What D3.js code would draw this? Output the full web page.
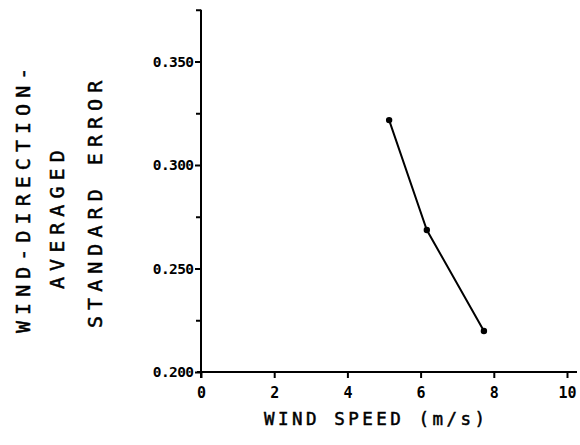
<!DOCTYPE html>
<html>
<head>
<meta charset="utf-8">
<script src="https://cdn.jsdelivr.net/npm/d3@7"></script>
<style>
  html, body { margin: 0; padding: 0; background: #fff; }
  svg { display: block; }
</style>
</head>
<body>
<svg id="chart" width="580" height="445"></svg>
<script>
// ---- data ----
const windSpeed = [5.14, 6.17, 7.73];
const stdError = [0.3217, 0.2686, 0.2198];
const xTicks = [0, 2, 4, 6, 8, 10];
const yMajorTicks = [0.200, 0.250, 0.300, 0.350];
const yMinorTicks = [0.225, 0.275, 0.325, 0.375];
const yTitleLines = ["WIND-DIRECTION-", "AVERAGED", "STANDARD ERROR"];
const xTitle = "WIND SPEED (m/s)";

const svg = d3.select("#chart");
const x = d3.scaleLinear().domain([0, 10]).range([201, 567]);
const y = d3.scaleLinear().domain([0.2, 0.375]).range([372, 9.75]);

const ink = "#000";
const mono = "'DejaVu Sans Mono', monospace";

// y axis
const yAxisG = svg.append("g").attr("transform", `translate(${x(0)},0)`);
yAxisG.call(d3.axisLeft(y).tickValues(yMajorTicks).tickSize(6).tickFormat(d3.format(".3f")));
yAxisG.select(".domain").remove();
yAxisG.selectAll("line").attr("stroke", ink).attr("stroke-width", 2);
yAxisG.selectAll("text")
  .attr("font-family", mono)
  .attr("font-weight", "bold")
  .attr("font-size", 14.5)
  .attr("letter-spacing", -0.6)
  .attr("fill", ink)
  .attr("x", -7.5);
const yMinorG = svg.append("g").attr("transform", `translate(${x(0)},0)`);
yMinorG.call(d3.axisLeft(y).tickValues(yMinorTicks).tickSize(5).tickFormat(""));
yMinorG.select(".domain").remove();
yMinorG.selectAll("line").attr("stroke", ink).attr("stroke-width", 2);

// y axis line
svg.append("line")
  .attr("x1", x(0)).attr("x2", x(0))
  .attr("y1", y(0.375)).attr("y2", y(0.2) + 6)
  .attr("stroke", ink).attr("stroke-width", 2);

// x axis
const xAxisG = svg.append("g").attr("transform", `translate(0,${y(0.2)})`);
xAxisG.call(d3.axisBottom(x).tickValues(xTicks).tickSize(6).tickFormat(d3.format("d")));
xAxisG.select(".domain").remove();
xAxisG.selectAll("line").attr("stroke", ink).attr("stroke-width", 2);
xAxisG.selectAll("text")
  .attr("font-family", mono)
  .attr("font-weight", "bold")
  .attr("font-size", 15)
  .attr("fill", ink)
  .attr("dy", null)
  .attr("y", 26);
svg.append("line")
  .attr("x1", x(0) - 4).attr("x2", 577)
  .attr("y1", y(0.2)).attr("y2", y(0.2))
  .attr("stroke", ink).attr("stroke-width", 2);

// data line
const pts = windSpeed.map((v, i) => [v, stdError[i]]);
svg.append("path")
  .datum(pts)
  .attr("fill", "none")
  .attr("stroke", ink)
  .attr("stroke-width", 2)
  .attr("d", d3.line().x(d => x(d[0])).y(d => y(d[1])));
svg.selectAll("circle.pt")
  .data(pts)
  .enter().append("circle")
  .attr("class", "pt")
  .attr("cx", d => x(d[0]))
  .attr("cy", d => y(d[1]))
  .attr("r", 3.2)
  .attr("fill", ink);

// y title (rotated, three lines): baseline x, start (bottom) y
const yTitleBaseX = [30, 63.5, 102];
const yTitleStartY = [333, 289, 328];
yTitleLines.forEach((t, i) => {
  svg.append("text")
    .attr("transform", `translate(${yTitleBaseX[i]},${yTitleStartY[i]}) rotate(-90)`)
    .attr("text-anchor", "start")
    .attr("font-family", mono)
    .attr("font-size", 20)
    .attr("letter-spacing", 6.05)
    .attr("fill", ink)
    .attr("stroke", ink)
    .attr("stroke-width", 0.5)
    .text(t);
});

// x title
svg.append("text")
  .attr("x", 264)
  .attr("y", 425)
  .attr("text-anchor", "start")
  .attr("font-family", mono)
  .attr("font-size", 17.5)
  .attr("letter-spacing", 3.5)
  .attr("fill", ink)
  .attr("stroke", ink)
  .attr("stroke-width", 0.5)
  .text(xTitle);
</script>
</body>
</html>
